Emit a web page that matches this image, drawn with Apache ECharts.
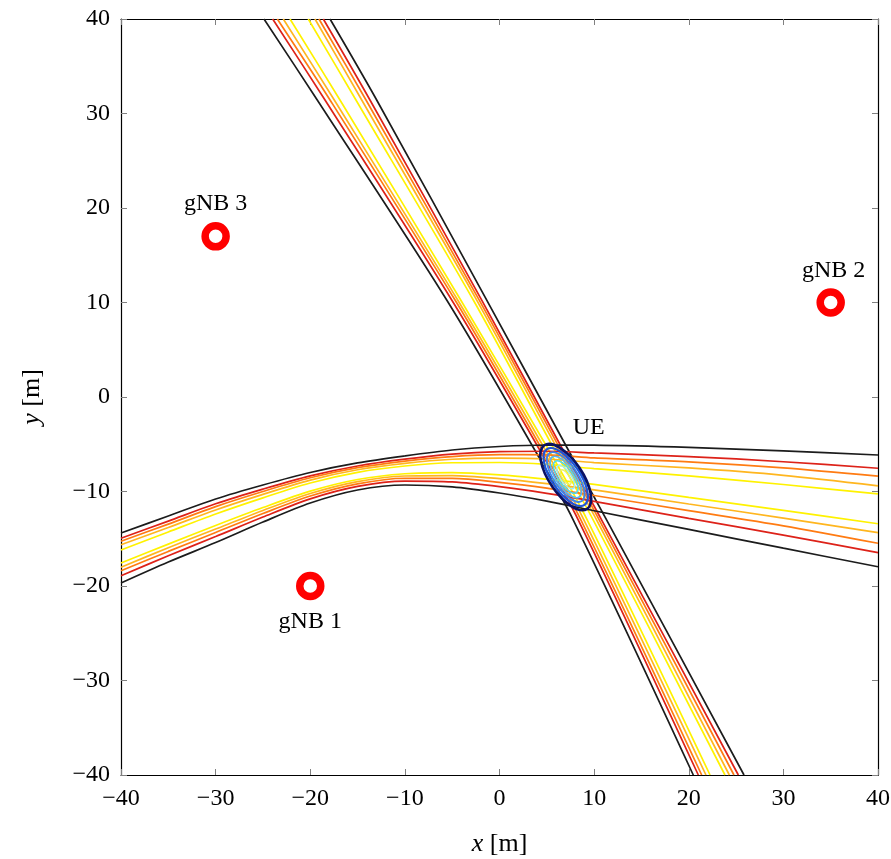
<!DOCTYPE html>
<html>
<head>
<meta charset="utf-8">
<script src="https://cdn.jsdelivr.net/npm/echarts@6/dist/echarts.min.js"></script>
<style>
  html, body { margin: 0; padding: 0; background: #ffffff; }
  #chart { width: 891px; height: 859px; }
</style>
</head>
<body>
<div id="chart"></div>
<script>
// ---- Steep TDOA band: x of each contour at these y rows ----
const steepY        = [40, 31.43, 10.26, -5.29, -13.02, -40];
const steepBlackL   = [-24.89, -19.26, -5.58, 3.54, 7.80, 20.48];
const steepRedL     = [-23.97, -18.44, -5.05, 4.07, 8.33, 21.01];
const steepOrangeL  = [-23.48, -17.91, -4.70, 4.35, 8.61, 21.37];
const steepAmberL   = [-22.85, -17.46, -4.42, 4.67, 8.93, 21.82];
const steepYellowL  = [-22.14, -16.86, -4.10, 5.02, 9.28, 22.25];
const steepYellowR  = [-20.21, -15.17, -2.77, 5.65, 9.91, 23.83];
const steepAmberR   = [-19.50, -14.56, -2.41, 6.01, 10.27, 24.29];
const steepOrangeR  = [-19.08, -14.11, -2.14, 6.29, 10.55, 24.78];
const steepRedR     = [-18.62, -13.69, -1.88, 6.54, 10.80, 25.24];
const steepBlackR   = [-17.91, -12.98, -1.35, 7.10, 11.33, 25.84];

// ---- Curved TDOA band: y of each contour at these x columns ----
const curvedX       = [-40, -35, -30, -25, -20, -15, -10, -5, 0, 5, 10, 20, 30, 40];
const curvedBlackT  = [-14.39, -12.59, -10.79, -9.31, -7.99, -6.98, -6.24, -5.61, -5.24, -5.08, -5.10, -5.34, -5.71, -6.14];
const curvedRedT    = [-14.95, -13.13, -11.30, -9.75, -8.35, -7.30, -6.58, -6.04, -5.78, -5.74, -5.92, -6.30, -6.85, -7.54];
const curvedOrangeT = [-15.27, -13.45, -11.60, -10.00, -8.55, -7.48, -6.78, -6.30, -6.10, -6.12, -6.44, -6.86, -7.51, -8.38];
const curvedAmberT  = [-15.63, -13.81, -11.95, -10.30, -8.79, -7.70, -7.02, -6.59, -6.47, -6.56, -6.94, -7.51, -8.29, -9.40];
const curvedYellowT = [-16.19, -14.28, -12.38, -10.67, -9.10, -7.97, -7.30, -6.96, -6.93, -7.12, -7.58, -8.34, -9.26, -10.26];
const curvedYellowB = [-17.57, -15.57, -13.60, -11.70, -9.96, -8.73, -8.12, -8.00, -8.24, -8.70, -9.25, -10.63, -11.99, -13.41];
const curvedAmberB  = [-18.01, -15.95, -13.97, -12.01, -10.21, -8.95, -8.36, -8.31, -8.63, -9.16, -9.82, -11.32, -12.81, -14.36];
const curvedOrangeB = [-18.39, -16.34, -14.34, -12.33, -10.48, -9.19, -8.60, -8.62, -9.03, -9.64, -10.42, -12.02, -13.63, -15.48];
const curvedRedB    = [-18.92, -16.80, -14.77, -12.70, -10.78, -9.46, -8.90, -8.99, -9.49, -10.20, -11.04, -12.84, -14.61, -16.46];
const curvedBlackB  = [-19.68, -17.46, -15.40, -13.23, -11.22, -9.84, -9.31, -9.52, -10.16, -11.01, -12.04, -14.01, -16.00, -17.96];

// ---- UE position estimate: nested likelihood contours (ellipses) ----
const ueCenter = [7.0, -8.47];
const ueMajor  = [4.05, 3.55, 3.05, 2.55, 2.0, 1.45, 0.9];
const ueMinor  = [1.75, 1.5, 1.25, 1.02, 0.8, 0.58, 0.36];
const ueAngle  = -56;

// ---- Base stations ----
const gnbNames = ['gNB 1', 'gNB 2', 'gNB 3'];
const gnbX     = [-20, 35, -30];
const gnbY     = [-20, 10, 17];

// ---- Axis ticks ----
const axisMin = -40, axisMax = 40, axisStep = 10;

// ---- Styles ----
const C_BLACK = '#1c1c1c', C_RED = '#dd2219', C_ORANGE = '#ff7b12', C_AMBER = '#ffb61f', C_YELLOW = '#fff200';
const ueColors = ['#0b1264', '#1f55d6', '#3b86ee', '#55b4f4', '#4fd6ee', '#9aeef2', '#e6ef6a'];
const ueWidths = [2.6, 2.2, 1.9, 1.7, 1.6, 1.5, 1.4];
const FONT = "'Liberation Serif', 'DejaVu Serif', serif";

const steepLines = [
  [steepBlackL, C_BLACK], [steepRedL, C_RED], [steepOrangeL, C_ORANGE], [steepAmberL, C_AMBER], [steepYellowL, C_YELLOW],
  [steepYellowR, C_YELLOW], [steepAmberR, C_AMBER], [steepOrangeR, C_ORANGE], [steepRedR, C_RED], [steepBlackR, C_BLACK]
];
const curvedLines = [
  [curvedBlackT, C_BLACK], [curvedRedT, C_RED], [curvedOrangeT, C_ORANGE], [curvedAmberT, C_AMBER], [curvedYellowT, C_YELLOW],
  [curvedYellowB, C_YELLOW], [curvedAmberB, C_AMBER], [curvedOrangeB, C_ORANGE], [curvedRedB, C_RED], [curvedBlackB, C_BLACK]
];

const series = [];

steepLines.forEach(([xs, color]) => {
  series.push({
    type: 'line', xAxisIndex: 0, yAxisIndex: 0,
    data: xs.map((x, i) => [x, steepY[i]]),
    showSymbol: false, smooth: 0.3,
    lineStyle: { color, width: 1.7 }, silent: true, z: 2
  });
});

curvedLines.forEach(([ys, color]) => {
  series.push({
    type: 'line', xAxisIndex: 0, yAxisIndex: 0,
    data: ys.map((y, i) => [curvedX[i], y]),
    showSymbol: false, smooth: 0.3,
    lineStyle: { color, width: 1.7 }, silent: true, z: 3
  });
});

// UE likelihood contours drawn as rotated ellipses in data space
series.push({
  type: 'custom', xAxisIndex: 0, yAxisIndex: 0, z: 5, silent: true,
  data: ueMajor.map((a, i) => [ueCenter[0], ueCenter[1], a, ueMinor[i], ueAngle]),
  renderItem(params, api) {
    const c = api.coord([api.value(0), api.value(1)]);
    const rx = api.size([api.value(2), 0])[0];
    const ry = api.size([0, api.value(3)])[1];
    const i = params.dataIndex;
    return {
      type: 'ellipse',
      x: c[0], y: c[1],
      rotation: api.value(4) * Math.PI / 180,
      shape: { cx: 0, cy: 0, rx, ry },
      style: { fill: null, stroke: ueColors[i], lineWidth: ueWidths[i] }
    };
  }
});

// UE label
series.push({
  type: 'scatter', xAxisIndex: 0, yAxisIndex: 0, z: 6, silent: true,
  data: [ueCenter], symbolSize: 0, itemStyle: { opacity: 1 },
  label: {
    show: true, formatter: 'UE', position: 'top', offset: [23, -32],
    fontFamily: FONT, fontSize: 24, color: '#000'
  }
});

// Base stations as red rings with names
series.push({
  type: 'scatter', xAxisIndex: 0, yAxisIndex: 0, z: 7, silent: true,
  symbol: 'circle', symbolSize: 21,
  itemStyle: { color: '#ffffff', borderColor: '#ff0000', borderWidth: 7.5, opacity: 1 },
  data: gnbNames.map((n, i) => ({
    name: n, value: [gnbX[i], gnbY[i]],
    label: {
      show: true, formatter: n, fontFamily: FONT, fontSize: 24, color: '#000',
      position: i === 0 ? 'bottom' : 'top',
      distance: i === 0 ? 9 : 6, offset: i === 1 ? [3, 0] : [0, 0]
    }
  }))
});

const minusFmt = v => String(v).replace('-', '\u2212');

const tickCommon = { show: true, inside: true, length: 6, lineStyle: { color: '#808080', width: 1 } };
const lineCommon = { show: true, onZero: false, lineStyle: { color: '#000', width: 1.2 } };

const option = {
  animation: false,
  backgroundColor: '#ffffff',
  grid: { left: 121, top: 19, width: 757, height: 756, show: false, containLabel: false, outerBoundsMode: 'none' },
  xAxis: [
    {
      type: 'value', min: axisMin, max: axisMax, interval: axisStep, position: 'bottom',
      axisLine: lineCommon, axisTick: tickCommon, splitLine: { show: false },
      axisLabel: { formatter: minusFmt, fontFamily: FONT, fontSize: 24, color: '#000', margin: 12 },
      name: '{i|x} [m]', nameLocation: 'middle', nameGap: 56,
      nameTextStyle: { fontFamily: FONT, fontSize: 26, color: '#000',
        rich: { i: { fontFamily: FONT, fontSize: 26, fontStyle: 'italic', color: '#000' } } }
    },
    {
      type: 'value', min: axisMin, max: axisMax, interval: axisStep, position: 'top',
      axisLine: lineCommon, axisTick: tickCommon, splitLine: { show: false }, axisLabel: { show: false }
    }
  ],
  yAxis: [
    {
      type: 'value', min: axisMin, max: axisMax, interval: axisStep, position: 'left',
      axisLine: lineCommon, axisTick: tickCommon, splitLine: { show: false },
      axisLabel: { formatter: minusFmt, fontFamily: FONT, fontSize: 24, color: '#000', margin: 11 },
      name: '{i|y} [m]', nameLocation: 'middle', nameGap: 76, nameRotate: 90,
      nameTextStyle: { fontFamily: FONT, fontSize: 26, color: '#000',
        rich: { i: { fontFamily: FONT, fontSize: 26, fontStyle: 'italic', color: '#000' } } }
    },
    {
      type: 'value', min: axisMin, max: axisMax, interval: axisStep, position: 'right',
      axisLine: lineCommon, axisTick: tickCommon, splitLine: { show: false }, axisLabel: { show: false }
    }
  ],
  series
};

const chart = echarts.init(document.getElementById('chart'), null, { renderer: 'canvas' });
chart.setOption(option);
</script>
</body>
</html>
